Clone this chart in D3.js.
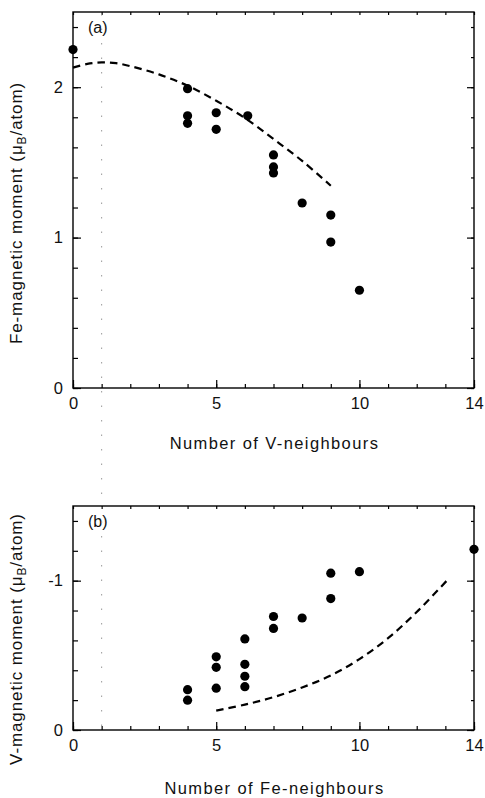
<!DOCTYPE html>
<html>
<head>
<meta charset="utf-8">
<script src="https://cdn.jsdelivr.net/npm/d3@7"></script>
<style>
  body { margin: 0; background: #fff; }
  text { font-family: "Liberation Sans", Arial, sans-serif; fill: #111; }
</style>
</head>
<body>
<svg id="chart" width="485" height="798"></svg>
<script>
// panel (a): Fe moment vs number of V neighbours
var feX = [0, 4, 4, 4, 5, 5, 6.1, 7, 7, 7, 8, 9, 9, 10];
var feY = [2.25, 1.99, 1.81, 1.76, 1.83, 1.72, 1.81, 1.55, 1.47, 1.43, 1.23, 1.15, 0.97, 0.65];
var feCurveX = [0, 0.5, 1, 1.5, 2, 3, 4, 5, 6, 7, 8, 9];
var feCurveY = [2.13, 2.155, 2.165, 2.16, 2.14, 2.085, 2.01, 1.91, 1.795, 1.655, 1.51, 1.345];

// panel (b): V moment vs number of Fe neighbours
var vX = [4, 4, 5, 5, 5, 6, 6, 6, 6, 7, 7, 8, 9, 9, 10, 14];
var vY = [-0.27, -0.20, -0.49, -0.42, -0.28, -0.61, -0.44, -0.36, -0.29, -0.76, -0.68, -0.75, -1.05, -0.88, -1.06, -1.21];
var vCurveX = [5, 6, 7, 8, 9, 10, 11, 12, 13.05];
var vCurveY = [-0.13, -0.17, -0.22, -0.285, -0.365, -0.475, -0.615, -0.79, -1.0];

var xTickLabels = [0, 5, 10, 14];
var feYTickLabels = [0, 1, 2];
var vYTickLabels = [0, -1];

var svg = d3.select("#chart");
var left = 73, right = 474;

var x = d3.scaleLinear().domain([0, 14]).range([left, right]);

function drawPanel(opt) {
  var y = d3.scaleLinear().domain(opt.yDomain).range([opt.bottom, opt.top]);
  var g = svg.append("g");

  // frame
  g.append("rect")
    .attr("x", left).attr("y", opt.top)
    .attr("width", right - left).attr("height", opt.bottom - opt.top)
    .attr("fill", "none").attr("stroke", "#000").attr("stroke-width", 1.4);

  var minorX = d3.range(0, 15);
  var minorY = opt.minorY;

  // bottom ticks, minor and labelled
  g.append("g").attr("transform", "translate(0," + opt.bottom + ")")
    .call(d3.axisBottom(x).tickValues(minorX).tickSize(-4).tickFormat(""));
  g.append("g").attr("class", "lab").attr("transform", "translate(0," + opt.bottom + ")")
    .call(d3.axisBottom(x).tickValues(xTickLabels).tickSize(-8).tickPadding(9).tickFormat(d3.format("d")));
  // top ticks
  g.append("g").attr("transform", "translate(0," + opt.top + ")")
    .call(d3.axisTop(x).tickValues(minorX).tickSize(-3).tickFormat(""));

  // left ticks
  g.append("g").attr("transform", "translate(" + left + ",0)")
    .call(d3.axisLeft(y).tickValues(minorY).tickSize(-5).tickFormat(""));
  g.append("g").attr("class", "lab").attr("transform", "translate(" + left + ",0)")
    .call(d3.axisLeft(y).tickValues(opt.yLabels).tickSize(-8).tickPadding(10)
      .tickFormat(function(d) { return String(d); }));
  // right ticks
  g.append("g").attr("transform", "translate(" + right + ",0)")
    .call(d3.axisRight(y).tickValues(minorY).tickSize(-3).tickFormat(""));
  g.append("g").attr("transform", "translate(" + right + ",0)")
    .call(d3.axisRight(y).tickValues(opt.yLabels).tickSize(-7).tickFormat(""));

  g.selectAll(".domain").remove();
  g.selectAll(".tick line").attr("stroke", "#000").attr("stroke-width", 1.2);
  g.selectAll(".lab text").attr("font-size", 16.5).attr("fill", "#111")
    .attr("font-family", "'Liberation Sans', Arial, sans-serif");

  // dashed calculated curve
  var line = d3.line()
    .x(function(d) { return x(d[0]); })
    .y(function(d) { return y(d[1]); })
    .curve(d3.curveCatmullRom);
  g.append("path")
    .datum(d3.zip(opt.cx, opt.cy))
    .attr("d", line)
    .attr("fill", "none").attr("stroke", "#000")
    .attr("stroke-width", 2.2).attr("stroke-dasharray", "7.5,5");

  // data points
  g.selectAll("circle.pt")
    .data(d3.zip(opt.px, opt.py))
    .enter().append("circle")
    .attr("class", "pt")
    .attr("cx", function(d) { return x(d[0]); })
    .attr("cy", function(d) { return y(d[1]); })
    .attr("r", 4.6)
    .attr("fill", "#000");

  // panel tag
  g.append("text").attr("x", 88).attr("y", opt.top + 21)
    .attr("font-size", 16).text(opt.tag);

  // x title
  g.append("text").attr("x", (left + right) / 2 + 1).attr("y", opt.bottom + opt.xTitleGap)
    .attr("text-anchor", "middle").attr("font-size", 16.5).attr("letter-spacing", 1.4)
    .text(opt.xTitle);

  // y title
  var yt = g.append("text")
    .attr("transform", "translate(22," + opt.yTitleMid + ") rotate(-90)")
    .attr("text-anchor", "middle").attr("font-size", 17).attr("letter-spacing", 0.9);
  yt.append("tspan").text(opt.yTitle + " (\u03bc");
  yt.append("tspan").attr("font-size", 12).attr("dy", 4).text("B");
  yt.append("tspan").attr("dy", -4).text("/atom)");

  return y;
}

drawPanel({
  top: 12, bottom: 388, yDomain: [0, 2.5],
  minorY: d3.range(0, 2.51, 0.2),
  yLabels: feYTickLabels,
  px: feX, py: feY, cx: feCurveX, cy: feCurveY,
  tag: "(a)", xTitle: "Number of V-neighbours", yTitle: "Fe-magnetic moment",
  xTitleGap: 61, yTitleMid: 213
});

drawPanel({
  top: 506, bottom: 730, yDomain: [0, -1.5],
  minorY: d3.range(0, -1.51, -0.2),
  yLabels: vYTickLabels,
  px: vX, py: vY, cx: vCurveX, cy: vCurveY,
  tag: "(b)", xTitle: "Number of Fe-neighbours", yTitle: "V-magnetic moment",
  xTitleGap: 64, yTitleMid: 639
});

// faint dotted guide at one neighbour, running through both panels
svg.append("line")
  .attr("x1", x(1)).attr("x2", x(1))
  .attr("y1", 14).attr("y2", 728)
  .attr("stroke", "#999").attr("stroke-width", 1)
  .attr("stroke-dasharray", "1.5,13");
</script>
</body>
</html>
